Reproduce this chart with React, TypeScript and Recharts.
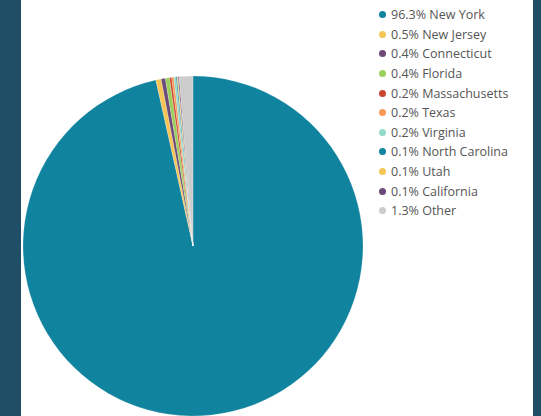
import { PieChart, Pie, Cell, Legend } from "recharts";

const states = [
  "New York", "New Jersey", "Connecticut", "Florida", "Massachusetts",
  "Texas", "Virginia", "North Carolina", "Utah", "California", "Other",
];
const shares = [96.3, 0.5, 0.4, 0.4, 0.2, 0.2, 0.2, 0.1, 0.1, 0.1, 1.3];
const colors = [
  "#10839f", "#f5c657", "#6b4a78", "#9bcf5b", "#c9452e",
  "#f89a55", "#93d9c8", "#10839f", "#f5c657", "#6b4a78", "#cccccc",
];

const data = states.map((name, i) => ({ name, value: shares[i] }));

const renderLegend = () => (
  <div style={{ fontFamily: "'Open Sans', sans-serif", fontSize: 12.5, color: "#555" }}>
    {data.map((d, i) => (
      <div key={d.name} style={{ display: "flex", alignItems: "center", height: 19.6 }}>
        <span style={{ width: 7, height: 7, borderRadius: "50%", background: colors[i], marginRight: 5, display: "inline-block" }} />
        <span>{`${d.value.toFixed(1)}% ${d.name}`}</span>
      </div>
    ))}
  </div>
);

export default function App() {
  return (
    <div style={{ position: "absolute", left: 0, top: 0, width: 541, height: 416, background: "#1f4e66", overflow: "hidden" }}>
      <div style={{ position: "absolute", left: 21, top: 0, width: 512, height: 416, background: "#ffffff" }}>
        <PieChart width={512} height={416} margin={{ top: 0, right: 0, bottom: 0, left: 0 }}>
          <Pie
            data={data}
            dataKey="value"
            cx={172}
            cy={246}
            outerRadius={170}
            startAngle={90}
            endAngle={-270}
            stroke="#ffffff"
            strokeWidth={0.2}
            isAnimationActive={false}
          >
            {data.map((d, i) => (
              <Cell key={d.name} fill={colors[i]} />
            ))}
          </Pie>
          <Legend
            content={renderLegend}
            layout="vertical"
            align="right"
            verticalAlign="top"
            wrapperStyle={{ left: 358, top: 5, width: 150 }}
          />
        </PieChart>
      </div>
    </div>
  );
}
